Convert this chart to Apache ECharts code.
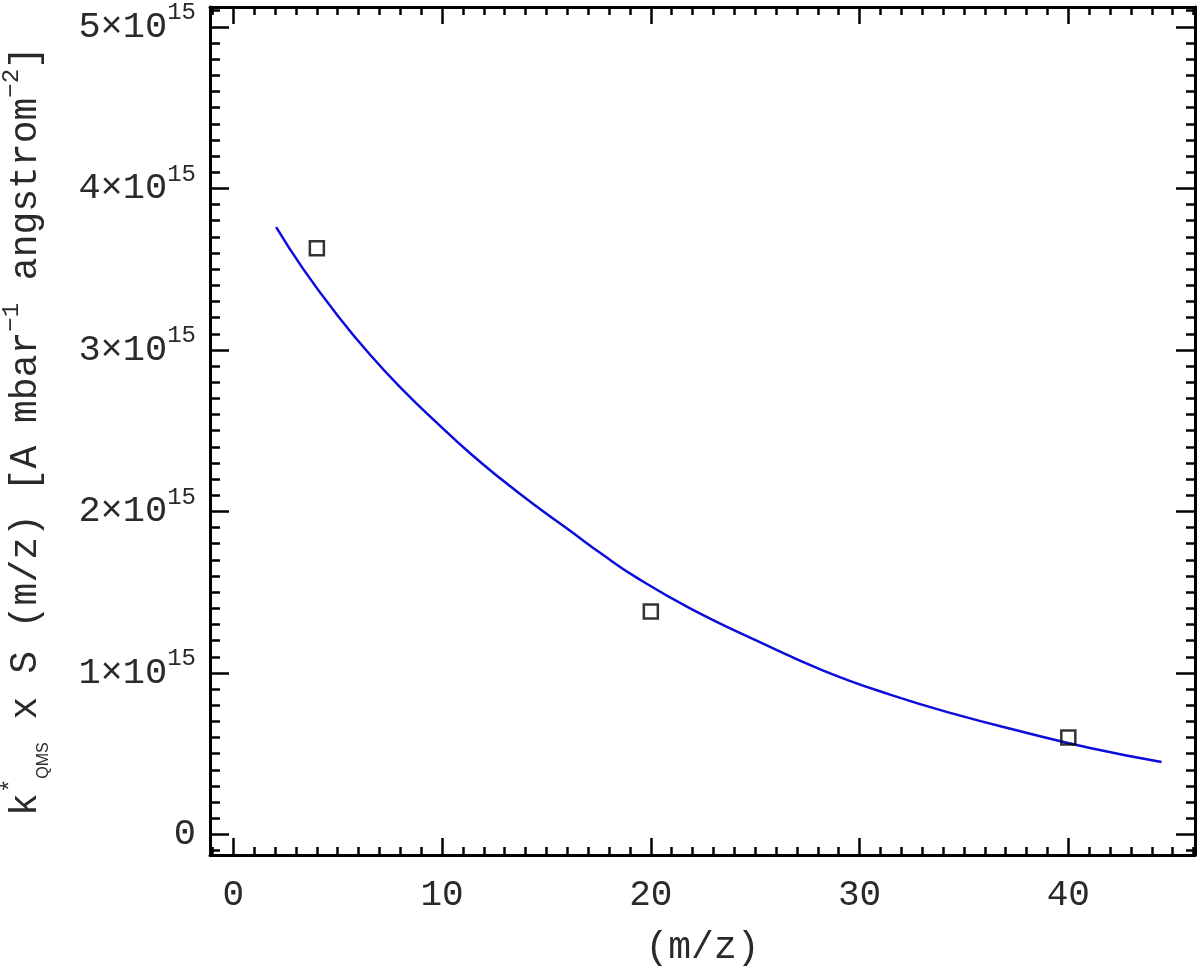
<!DOCTYPE html>
<html>
<head>
<meta charset="utf-8">
<title>k*QMS x S vs m/z</title>
<script src="https://cdn.jsdelivr.net/npm/echarts@6/dist/echarts.min.js"></script>
<style>
  html, body { margin: 0; padding: 0; background: #fff; }
  #chart { width: 1200px; height: 969px; }
</style>
</head>
<body>
<div id="chart"></div>
<script>
  // fitted curve
  const curveX = [2.05, 3.35, 4.95, 6.55, 8.14, 9.74, 11.34, 12.93, 14.53, 16.13,
                  17.72, 19.32, 21.88, 25.07, 28.26, 31.46, 34.65, 37.84, 41.04, 44.47]
  const curveY = [3.76e15, 3.50e15, 3.22e15, 2.97e15, 2.75e15, 2.55e15, 2.36e15, 2.19e15, 2.03e15, 1.88e15,
                  1.73e15, 1.59e15, 1.40e15, 1.20e15, 1.015e15, 0.866e15, 0.742e15, 0.635e15, 0.536e15, 0.449e15]
  // measured points
  const pointX = [4, 20, 40]
  const pointY = [3.63e15, 1.38e15, 0.60e15]
  // tick labels
  const xTicks = [0, 10, 20, 30, 40]
  const yTicks = [0, 1e15, 2e15, 3e15, 4e15, 5e15]

  const xMin = -1.12, xMax = 46.07
  const yMin = -0.127e15, yMax = 5.123e15

  // minor ticks: 10 per major interval
  const minorOf = (majors, lo, hi) => {
    const step = (majors[1] - majors[0]) / 10
    const out = []
    for (let i = Math.ceil(lo / step); i * step <= hi; i++) {
      if (i % 10 !== 0) out.push(i * step)
    }
    return out
  }
  const xMinor = minorOf(xTicks, xMin, xMax)
  const yMinor = minorOf(yTicks, yMin, yMax)

  const FONT = '"Liberation Mono", "DejaVu Sans Mono", monospace'
  const INK = '#2a2a2a'

  const frameAxis = (pos, min, max, major, minor, majorLen, minorLen, extra) => [
    Object.assign({
      type: 'value', position: pos, min: min, max: max,
      axisLine: { show: true, onZero: false, lineStyle: { color: '#000', width: 3 } },
      axisTick: { show: true, inside: true, length: majorLen, customValues: major,
                  lineStyle: { color: '#000', width: 2.5 } },
      axisLabel: { show: false },
      splitLine: { show: false }
    }, extra || {}),
    {
      type: 'value', position: pos, min: min, max: max,
      axisLine: { show: false, onZero: false },
      axisTick: { show: true, inside: true, length: minorLen, customValues: minor,
                  lineStyle: { color: '#000', width: 2.5 } },
      axisLabel: { show: false },
      splitLine: { show: false }
    }
  ]

  const xBottom = {
    axisLabel: {
      show: true, customValues: xTicks, margin: 22,
      fontFamily: FONT, fontSize: 36, color: INK
    },
    name: '(m/z)',
    nameLocation: 'middle',
    nameGap: 74,
    nameTextStyle: { fontFamily: FONT, fontSize: 38, color: INK }
  }

  const yLeft = {
    axisLabel: {
      show: true, customValues: yTicks, margin: 14,
      formatter: v => v === 0 ? '{a|0}' : '{a|' + Math.round(v / 1e15) + '×10}{s|15}',
      rich: {
        a: { fontFamily: FONT, fontSize: 37, color: INK, lineHeight: 52 },
        s: { fontFamily: FONT, fontSize: 24, color: INK, lineHeight: 24, verticalAlign: 'top' }
      }
    },
    name: '{t|k}{sup|*}{sub|QMS}{t| x S (m/z) [A mbar}{sup|−1}{t| angstrom}{sup|−2}{t|]}',
    nameLocation: 'middle',
    nameRotate: 90,
    nameGap: 158,
    nameTextStyle: {
      rich: {
        t: { fontFamily: FONT, fontSize: 38, color: INK, lineHeight: 52 },
        sup: { fontFamily: FONT, fontSize: 24, color: INK, lineHeight: 24, verticalAlign: 'top' },
        sub: { fontFamily: '"Liberation Sans", sans-serif', fontSize: 16, color: INK, lineHeight: 30, verticalAlign: 'bottom' }
      }
    }
  }

  const chart = echarts.init(document.getElementById('chart'))
  chart.setOption({
    backgroundColor: '#fff',
    animation: false,
    grid: { left: 210, right: 5, top: 7, bottom: 114, outerBoundsMode: 'none' },
    xAxis: [
      ...frameAxis('bottom', xMin, xMax, xTicks, xMinor, 17, 8, xBottom),
      ...frameAxis('top', xMin, xMax, xTicks, xMinor, 17, 8)
    ],
    yAxis: [
      ...frameAxis('left', yMin, yMax, yTicks, yMinor, 19, 10, yLeft),
      ...frameAxis('right', yMin, yMax, yTicks, yMinor, 19, 9)
    ],
    series: [
      {
        name: 'fit',
        type: 'line',
        xAxisIndex: 0, yAxisIndex: 0,
        smooth: 0.5,
        showSymbol: false,
        lineStyle: { color: '#0c0cdc', width: 2.5 },
        data: curveX.map((x, i) => [x, curveY[i]])
      },
      {
        name: 'data',
        type: 'scatter',
        xAxisIndex: 0, yAxisIndex: 0,
        symbol: 'rect',
        symbolSize: 14,
        itemStyle: { color: 'rgba(0,0,0,0)', borderColor: '#000', borderWidth: 2.5 },
        z: 5,
        data: pointX.map((x, i) => [x, pointY[i]])
      }
    ]
  })
</script>
</body>
</html>
